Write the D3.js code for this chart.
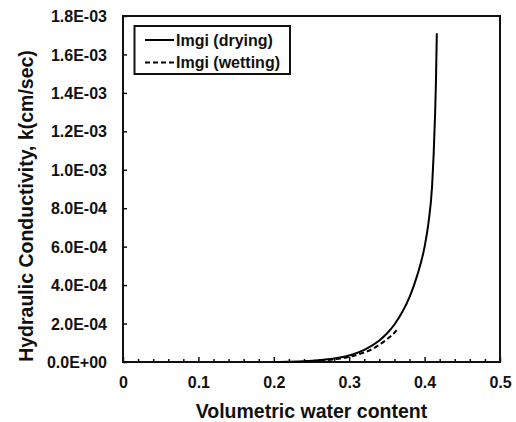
<!DOCTYPE html>
<html>
<head>
<meta charset="utf-8">
<script src="https://cdn.jsdelivr.net/npm/d3@7"></script>
<style>
  html, body { margin: 0; padding: 0; background: #fff; }
  svg { display: block; }
  text { font-family: "Liberation Sans", Arial, sans-serif; font-weight: bold; fill: #111; }
</style>
</head>
<body>
<svg id="chart" width="516" height="422"></svg>
<script>
// Volumetric water content (x) and hydraulic conductivity k in cm/sec (y)
const dryingTheta = [0.20, 0.22, 0.24, 0.26, 0.28, 0.30, 0.32, 0.34, 0.35, 0.36, 0.37, 0.38, 0.39, 0.40, 0.405, 0.41, 0.412, 0.414, 0.415, 0.4162];
const dryingK     = [0.0, 1.5e-6, 4e-6, 9e-6, 1.8e-5, 3.4e-5, 6.3e-5, 1.12e-4, 1.48e-4, 1.95e-4, 2.57e-4, 3.38e-4, 4.48e-4, 6.0e-4, 7.2e-4, 9.2e-4, 1.08e-3, 1.3e-3, 1.45e-3, 1.71e-3];

const wettingTheta = [0.24, 0.26, 0.28, 0.30, 0.32, 0.33, 0.34, 0.35, 0.355, 0.36, 0.364];
const wettingK     = [3e-6, 7e-6, 1.4e-5, 2.7e-5, 5.0e-5, 6.6e-5, 9.0e-5, 1.18e-4, 1.34e-4, 1.52e-4, 1.72e-4];

const seriesNames = ["Imgi (drying)", "Imgi (wetting)"];
const xTickValues = [0, 0.1, 0.2, 0.3, 0.4, 0.5];
const xTickLabels = ["0", "0.1", "0.2", "0.3", "0.4", "0.5"];
const yTickValues = [0, 2e-4, 4e-4, 6e-4, 8e-4, 1.0e-3, 1.2e-3, 1.4e-3, 1.6e-3, 1.8e-3];
const yTickLabels = ["0.0E+00", "2.0E-04", "4.0E-04", "6.0E-04", "8.0E-04", "1.0E-03", "1.2E-03", "1.4E-03", "1.6E-03", "1.8E-03"];

const svg = d3.select("#chart");
const m = { left: 123, right: 500, top: 16, bottom: 362 };

const x = d3.scaleLinear().domain([0, 0.5]).range([m.left, m.right]);
const y = d3.scaleLinear().domain([0, 1.8e-3]).range([m.bottom, m.top]);

// minor x ticks every 0.02, pointing inward
const minorX = d3.range(0, 0.5001, 0.02).filter(v => Math.abs(v * 10 - Math.round(v * 10)) > 1e-6);
svg.append("g")
  .attr("transform", `translate(0,${m.bottom})`)
  .call(d3.axisBottom(x).tickValues(minorX).tickSize(-3).tickFormat(""))
  .call(g => g.select(".domain").remove())
  .call(g => g.selectAll("line").attr("stroke", "#111").attr("stroke-width", 1.5));

// major x ticks and labels
svg.append("g")
  .attr("transform", `translate(0,${m.bottom})`)
  .call(d3.axisBottom(x).tickValues(xTickValues).tickSizeInner(-5).tickSizeOuter(0)
    .tickFormat((d, i) => xTickLabels[i]))
  .call(g => g.select(".domain").remove())
  .call(g => g.selectAll("line").attr("stroke", "#111").attr("stroke-width", 1.5))
  .call(g => g.selectAll("text").attr("y", 26).attr("dy", 0).style("font-size", "16px").attr("fill", "#111"));

// y ticks and labels
svg.append("g")
  .attr("transform", `translate(${m.left},0)`)
  .call(d3.axisLeft(y).tickValues(yTickValues).tickSizeInner(-4).tickSizeOuter(0)
    .tickFormat((d, i) => yTickLabels[i]))
  .call(g => g.select(".domain").remove())
  .call(g => g.selectAll("line").attr("stroke", "#111").attr("stroke-width", 1.5))
  .call(g => g.selectAll("text").attr("x", -16).attr("dy", "0.35em").style("font-size", "16px").attr("fill", "#111"));

// plot frame
svg.append("rect")
  .attr("x", m.left).attr("y", m.top)
  .attr("width", m.right - m.left).attr("height", m.bottom - m.top)
  .attr("fill", "none").attr("stroke", "#111").attr("stroke-width", 2);

const line = d3.line().x(d => x(d[0])).y(d => y(d[1])).curve(d3.curveMonotoneX);

svg.append("path")
  .datum(dryingTheta.map((t, i) => [t, dryingK[i]]))
  .attr("d", line)
  .attr("fill", "none").attr("stroke", "#000").attr("stroke-width", 2);

svg.append("path")
  .datum(wettingTheta.map((t, i) => [t, wettingK[i]]))
  .attr("d", line)
  .attr("fill", "none").attr("stroke", "#000").attr("stroke-width", 2)
  .attr("stroke-dasharray", "5,3");

// legend
const lg = svg.append("g");
lg.append("rect")
  .attr("x", 134.5).attr("y", 26).attr("width", 155.5).attr("height", 48)
  .attr("fill", "#fff").attr("stroke", "#111").attr("stroke-width", 2);
const rowsY = [40, 62.5];
const dashes = [null, "5,3"];
seriesNames.forEach((name, i) => {
  lg.append("line")
    .attr("x1", 145).attr("x2", 174).attr("y1", rowsY[i]).attr("y2", rowsY[i])
    .attr("stroke", "#000").attr("stroke-width", 2)
    .attr("stroke-dasharray", dashes[i]);
  lg.append("text")
    .attr("x", 176).attr("y", rowsY[i]).attr("dy", "0.35em")
    .style("font-size", "16px").text(name);
});

// axis titles
svg.append("text")
  .attr("x", (m.left + m.right) / 2).attr("y", 418)
  .attr("text-anchor", "middle").style("font-size", "19.5px")
  .text("Volumetric water content");

svg.append("text")
  .attr("transform", "translate(33,206) rotate(-90)")
  .attr("text-anchor", "middle").style("font-size", "19.5px")
  .text("Hydraulic Conductivity, k(cm/sec)");
</script>
</body>
</html>
